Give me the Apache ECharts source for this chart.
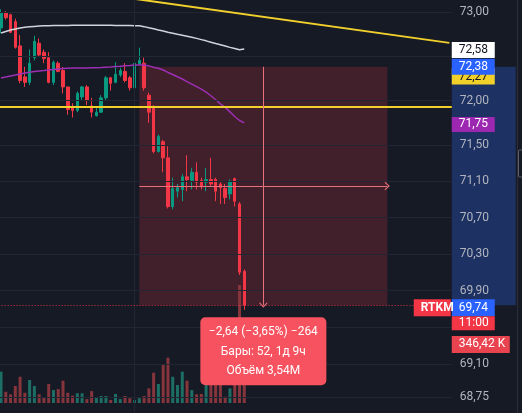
<!DOCTYPE html>
<html>
<head>
<meta charset="utf-8">
<script src="https://cdn.jsdelivr.net/npm/echarts@6/dist/echarts.min.js"></script>
<style>
html,body{margin:0;padding:0;background:#161a25;overflow:hidden;}
#c{width:522px;height:413px;}
</style>
</head>
<body>
<div id="c"></div>
<script>
// ---------- data ----------
const opens  = [72.82,72.99,72.97,72.89,72.616,72.266,72.205,72.483,72.647,72.544,72.483,72.205,72.42,72.338,72.153,71.93,71.89,72.04,72.153,71.94,71.83,71.87,72.03,72.256,72.205,72.287,72.328,72.256,72.143,72.41,72.421,72.06,71.92,71.43,71.54,71.36,70.82,70.99,71.01,71.15,71.11,71.20,71.11,71.09,71.12,71.12,71.07,71.02,70.96,71.13,70.85,70.11];
const closes = [72.99,72.935,72.77,72.60,72.225,72.205,72.42,72.668,72.513,72.472,72.205,72.431,72.328,72.153,71.90,71.89,72.081,72.153,72.00,71.87,71.87,72.03,72.256,72.194,72.297,72.338,72.225,72.143,72.421,72.452,72.143,71.87,71.43,71.60,71.36,70.82,71.02,71.03,71.15,71.12,71.20,71.09,71.04,71.12,71.07,70.99,71.03,70.92,71.10,70.88,70.10,69.74];
const lows   = [72.76,72.915,72.76,72.585,72.194,72.153,72.174,72.452,72.493,72.42,72.194,72.174,72.318,72.081,71.84,71.81,71.87,72.00,71.95,71.81,71.82,71.86,72.00,72.112,72.194,72.266,72.205,72.112,72.112,72.40,72.112,71.75,71.41,71.42,71.20,70.80,70.79,70.92,70.88,70.99,71.01,71.01,71.01,70.99,71.04,70.88,70.85,70.85,70.90,70.82,70.07,69.69];
const highs  = [73.03,73.01,72.98,72.925,72.74,72.38,72.575,72.73,72.70,72.575,72.544,72.452,72.441,72.38,72.153,71.97,72.102,72.164,72.174,72.03,71.92,72.06,72.277,72.266,72.431,72.37,72.421,72.277,72.431,72.596,72.483,72.09,71.95,71.62,71.56,71.49,71.14,71.07,71.18,71.39,71.25,71.31,71.14,71.25,71.36,71.14,71.09,71.07,71.12,71.14,70.87,70.13];
// volume in thousands
const volumes = [184,66,51,100,154,60,135,100,51,33,112,76,82,131,60,43,57,57,23,70,31,41,41,18,53,23,41,28,18,28,41,86,178,112,229,266,154,106,184,131,76,51,53,117,155,135,125,37,86,147,693,346.42];
const maWhite = [72.762,72.779,72.796,72.807,72.819,72.827,72.832,72.837,72.840,72.843,72.845,72.846,72.847,72.848,72.848,72.849,72.849,72.849,72.850,72.850,72.850,72.850,72.849,72.849,72.848,72.848,72.847,72.846,72.845,72.844,72.834,72.821,72.809,72.796,72.784,72.771,72.760,72.748,72.737,72.726,72.714,72.701,72.687,72.673,72.658,72.643,72.629,72.614,72.599,72.586,72.573,72.58];
const maPurple = [72.254,72.265,72.276,72.287,72.299,72.310,72.319,72.327,72.333,72.338,72.344,72.350,72.356,72.360,72.364,72.365,72.366,72.367,72.367,72.368,72.369,72.371,72.375,72.378,72.383,72.387,72.392,72.395,72.399,72.401,72.401,72.390,72.375,72.364,72.344,72.316,72.293,72.268,72.242,72.213,72.185,72.157,72.128,72.094,72.054,72.009,71.963,71.924,71.873,71.821,71.777,71.75];
const priceLabelTicks = [73.00,72.00,71.50,71.10,70.70,70.30,69.90,69.10,68.75];
const priceGridTicks  = [73.00,72.50,72.00,71.50,71.10,70.70,70.30,69.90,69.50,69.10,68.75];
const timeGridBars = [28];
const levelPrice = 71.93;                       // yellow horizontal level
const trendPoints = [[25, 73.173], [94, 72.650]]; // yellow trend line
const measureStartBar = 29, measureEndBar = 81;
const measureStartPrice = 72.38, measureEndPrice = 69.74;
const hiddenLevelPrice = 72.27;
const symbolName = 'RTKM';
const countdownText = '11:00';
const durationText = '1д 9ч';
const slotCount = 95;
const timeSlots = Array.from({length: slotCount}, (_, i) => String(i));

// ---------- helpers ----------
const fmt = v => v.toFixed(2).replace('.', ',');
const barW = 4.77;
const gridLeft = 1 - barW / 2;
const gridRight = 522 - (gridLeft + slotCount * barW);
const priceMin = 68.579, priceMax = 73.137;
const volMax = 2366;
const upC = '#089981', downC = '#f23645';
const volUp = '#1d6e64', volDown = '#87353d';
const gridC = '#222632';
const measureC = '#e8707c';
const chevron = 'path://M0,10 L5,0 L10,10 L8.4,10 L5,3.2 L1.6,10 Z';

const last = closes.length - 1;
let volSum = 0;
for (let i = measureStartBar; i <= last; i++) volSum += volumes[i];
const diff = measureEndPrice - measureStartPrice;
const pct = diff / measureStartPrice * 100;
const ticks = Math.round(diff / 0.01);
const minus = s => s.replace('-', '\u2212');
const line1 = minus(diff.toFixed(2).replace('.', ',')) + ' (' + minus(pct.toFixed(2).replace('.', ',')) + '%) ' + minus(String(ticks));
const line2 = 'Бары: ' + (measureEndBar - measureStartBar) + ', ' + durationText;
const line3 = 'Объём ' + (volSum / 1000).toFixed(2).replace('.', ',') + 'M';

const chart = echarts.init(document.getElementById('c'), null, {renderer: 'canvas'});
const hiddenAxis = {axisLine:{show:false}, axisTick:{show:false}, axisLabel:{show:false}, splitLine:{show:false}};

const option = {
  animation: false,
  backgroundColor: '#161a25',
  textStyle: {fontFamily: 'Roboto'},
  grid: [
    {left: gridLeft, right: gridRight, top: 0, bottom: 0, outerBoundsMode: 'none'},
    {left: gridLeft, right: gridRight, top: 0, bottom: 10, outerBoundsMode: 'none'}
  ],
  xAxis: [
    Object.assign({type: 'category', gridIndex: 0, data: timeSlots, boundaryGap: true}, hiddenAxis),
    Object.assign({type: 'category', gridIndex: 1, data: timeSlots, boundaryGap: true}, hiddenAxis)
  ],
  yAxis: [
    {
      type: 'log', gridIndex: 0, position: 'right', min: priceMin, max: priceMax,
      axisLine: {show: false}, axisTick: {show: false}, splitLine: {show: false},
      axisLabel: {customValues: priceLabelTicks, formatter: v => fmt(v), color: '#b2b5be', fontSize: 12, fontFamily: 'Roboto', margin: 8}
    },
    Object.assign({type: 'value', gridIndex: 1, min: 0, max: volMax}, hiddenAxis)
  ],
  series: [
    {
      name: 'grid', type: 'line', xAxisIndex: 0, yAxisIndex: 0, data: [], z: 1, silent: true,
      markLine: {
        silent: true, symbol: 'none', label: {show: false}, animation: false,
        lineStyle: {color: gridC, width: 1, type: 'solid'},
        data: priceGridTicks.map(v => ({yAxis: v})).concat(timeGridBars.map(b => ({xAxis: b})))
      },
      markArea: {
        silent: true, animation: false,
        itemStyle: {color: 'rgba(242,54,69,0.2)'},
        data: [[{xAxis: measureStartBar, yAxis: measureStartPrice}, {xAxis: measureEndBar, yAxis: measureEndPrice}]]
      }
    },
    {
      name: 'volume', type: 'bar', xAxisIndex: 1, yAxisIndex: 1, barWidth: 3, z: 2, silent: true,
      data: volumes.map((v, i) => ({value: v, itemStyle: {color: closes[i] >= opens[i] ? volUp : volDown}}))
    },
    {
      name: 'price', type: 'candlestick', xAxisIndex: 0, yAxisIndex: 0, barWidth: 3, z: 3, silent: true,
      data: opens.map((o, i) => [o, closes[i], lows[i], highs[i]]),
      itemStyle: {color: upC, color0: downC, borderColor: upC, borderColor0: downC, borderWidth: 1}
    },
    {
      name: 'maWhite', type: 'line', data: maWhite, showSymbol: false, symbol: 'none', z: 4, silent: true,
      lineStyle: {color: '#d1d4dc', width: 1.5}
    },
    {
      name: 'maPurple', type: 'line', data: maPurple, showSymbol: false, symbol: 'none', z: 4, silent: true,
      lineStyle: {color: '#9c2fb3', width: 1.5}
    },
    {
      name: 'trend', type: 'line', data: trendPoints, showSymbol: false, symbol: 'none', z: 5, silent: true,
      lineStyle: {color: '#f2d02b', width: 2},
      markLine: {
        silent: true, symbol: 'none', label: {show: false}, animation: false,
        lineStyle: {color: '#f2d02b', width: 2, type: 'solid'},
        data: [{yAxis: levelPrice}]
      }
    },
    {
      name: 'lastPrice', type: 'line', data: [], z: 5, silent: true,
      markLine: {
        silent: true, symbol: 'none', label: {show: false}, animation: false,
        lineStyle: {color: '#f23645', width: 1, type: [1, 2], opacity: 0.9},
        data: [{yAxis: closes[last]}]
      }
    },
    {
      name: 'measure', type: 'line', data: [], z: 6, silent: true,
      markLine: {
        silent: true, symbol: ['none', chevron], symbolSize: [9, 5], label: {show: false}, animation: false,
        lineStyle: {color: measureC, width: 1, type: 'solid'},
        data: [
          [{coord: [measureStartBar, Math.sqrt(measureStartPrice * measureEndPrice)]}, {coord: [measureEndBar, Math.sqrt(measureStartPrice * measureEndPrice)]}],
          [{coord: [(measureStartBar + measureEndBar) / 2, measureStartPrice]}, {coord: [(measureStartBar + measureEndBar) / 2, measureEndPrice]}]
        ]
      }
    }
  ]
};
chart.setOption(option);

// ---------- price-scale labels & measurement tooltip ----------
const Y = v => chart.convertToPixel({yAxisIndex: 0}, v);
const YV = v => chart.convertToPixel({yAxisIndex: 1}, v);
const X = i => chart.convertToPixel({xAxisIndex: 0}, i);
const axisX = gridLeft + slotCount * barW;

function tag(yTop, h, text, bg, fg, x, w, z, bold) {
  return {
    type: 'group', z: z,
    children: [
      {type: 'rect', z: z, shape: {x: x, y: yTop, width: w, height: h}, style: {fill: bg}},
      {type: 'text', z: z, style: {x: x + 7, y: yTop + h / 2, text: text, fill: fg, font: (bold ? 'bold ' : '') + '12px Roboto', textVerticalAlign: 'middle', verticalAlign: 'middle'}}
    ]
  };
}

const yStart = Y(measureStartPrice), yEnd = Y(measureEndPrice);
const yLast = Y(closes[last]);
const boxCx = X((measureStartBar + measureEndBar) / 2);
const graphics = [
  {type: 'rect', z: -1, shape: {x: axisX, y: yStart, width: 64, height: yEnd - yStart}, style: {fill: '#1d3162'}},
  {type: 'rect', z: 20, shape: {x: 517, y: 0, width: 1, height: 413}, style: {fill: '#2a2e39'}},
  {type: 'rect', z: 20, shape: {x: 518.5, y: 150, width: 4, height: 27, r: 1}, style: {fill: 'none', stroke: '#5d606b', lineWidth: 1}},
  tag(Y(hiddenLevelPrice) - 8, 16, fmt(hiddenLevelPrice), '#f2d02b', '#131722', axisX, 43, 10),
  tag(Y(measureStartPrice) - 8, 16, fmt(measureStartPrice), '#2962ff', '#ffffff', axisX, 43, 11),
  tag(Y(maWhite[last]) - 7, 16, fmt(maWhite[last]), '#ffffff', '#131722', axisX, 43, 11),
  tag(Y(maPurple[last]) - 6, 15, fmt(maPurple[last]), '#9c27b0', '#ffffff', axisX, 43, 11),
  tag(yLast - 6, 17, fmt(closes[last]), '#2962ff', '#ffffff', axisX, 43, 11),
  tag(yLast + 11, 14, countdownText, '#f23645', '#ffffff', axisX, 43, 11),
  tag(yLast - 6, 17, symbolName, '#f23645', '#ffffff', axisX - 38, 37, 11, true),
  tag(YV(volumes[last]) - 8, 17, fmt(volumes[last]) + ' K', '#e8434f', '#ffffff', axisX, 58, 11),
  {
    type: 'group', z: 12,
    children: [
      {type: 'rect', z: 12, shape: {x: boxCx - 63, y: yEnd + 12, width: 126, height: 68, r: 5}, style: {fill: '#f6525f'}},
      {type: 'text', z: 12, style: {x: boxCx, y: yEnd + 27, text: line1, fill: '#ffffff', font: '12px Roboto', textAlign: 'center', align: 'center', textVerticalAlign: 'middle', verticalAlign: 'middle'}},
      {type: 'text', z: 12, style: {x: boxCx, y: yEnd + 47, text: line2, fill: '#ffffff', font: '12px Roboto', textAlign: 'center', align: 'center', textVerticalAlign: 'middle', verticalAlign: 'middle'}},
      {type: 'text', z: 12, style: {x: boxCx, y: yEnd + 66, text: line3, fill: '#ffffff', font: '12px Roboto', textAlign: 'center', align: 'center', textVerticalAlign: 'middle', verticalAlign: 'middle'}}
    ]
  }
];
chart.setOption({graphic: graphics});
</script>
</body>
</html>
